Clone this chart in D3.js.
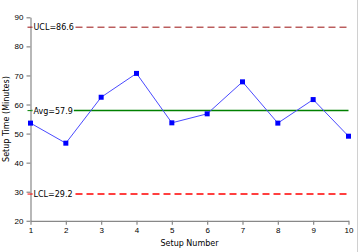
<!DOCTYPE html>
<html>
<head>
<meta charset="utf-8">
<script src="https://cdn.jsdelivr.net/npm/d3@7"></script>
<style>
  body { margin: 0; background: #fff; }
  svg { display: block; font-family: "DejaVu Sans", Verdana, sans-serif; }
</style>
</head>
<body>
<div id="chart"></div>
<script>
// setup times
const setupNumbers = [1, 2, 3, 4, 5, 6, 7, 8, 9, 10];
const setupTimes = [53.6, 46.7, 62.5, 70.7, 53.7, 56.8, 67.8, 53.6, 61.7, 49.1];
const yTicks = [20, 30, 40, 50, 60, 70, 80, 90];
const limits = [
  { name: 'UCL', value: 86.6, color: '#9a1010', width: 1 },
  { name: 'Avg', value: 57.9, color: '#008000', width: 1.5 },
  { name: 'LCL', value: 29.2, color: '#ff0000', width: 1.5 }
];

const width = 359;
const height = 252;

const svg = d3.select('#chart')
  .append('svg')
  .attr('width', width)
  .attr('height', height);

const x = d3.scaleLinear().domain([1, 10]).range([30.5, 348.5]);
const y = d3.scaleLinear().domain([20, 90]).range([220.8, 17.3]);

// frame edge on the right
svg.append('line')
  .attr('x1', 357.5).attr('x2', 357.5)
  .attr('y1', 0).attr('y2', height)
  .attr('stroke', '#d0d0d0');

const yAxis = svg.append('g')
  .attr('transform', `translate(${x(1)},0)`)
  .call(d3.axisLeft(y).tickValues(yTicks).tickSize(4).tickPadding(3).tickSizeOuter(0));

const xAxis = svg.append('g')
  .attr('transform', `translate(0,${y(20)})`)
  .call(d3.axisBottom(x).tickValues(setupNumbers).tickFormat(d3.format('d')).tickSize(4).tickPadding(3).tickSizeOuter(0));

[yAxis, xAxis].forEach(a => {
  a.selectAll('path, line').attr('stroke', '#888').attr('stroke-width', 1.2);
  a.selectAll('text').attr('fill', '#000').style('font-size', '8px');
});

// control limit lines
limits.forEach(l => {
  const yy = y(l.value);
  svg.append('line')
    .attr('x1', x(1) - 3).attr('x2', x(1) + 1)
    .attr('y1', yy).attr('y2', yy)
    .attr('stroke', l.color).attr('stroke-width', 1);
  svg.append('line')
    .attr('x1', x(1) + 1).attr('x2', l.name === 'Avg' ? x(10) : x(10) - 2)
    .attr('y1', yy).attr('y2', yy)
    .attr('stroke', l.color)
    .attr('stroke-width', l.width)
    .attr('stroke-dasharray', l.name === 'Avg' ? null : '7,4');

  const label = svg.append('text')
    .attr('x', x(1) + 3)
    .attr('y', yy + 3)
    .style('font-size', '8px')
    .attr('fill', '#000')
    .text(`${l.name}=${l.value}`);
  const bb = label.node().getBBox();
  svg.insert('rect', () => label.node())
    .attr('x', bb.x - 1).attr('y', bb.y)
    .attr('width', bb.width + 2).attr('height', bb.height)
    .attr('fill', '#fff');
});

// data series
const line = d3.line()
  .x((d, i) => x(setupNumbers[i]))
  .y(d => y(d));

svg.append('path')
  .datum(setupTimes)
  .attr('fill', 'none')
  .attr('stroke', '#4a4aff')
  .attr('stroke-width', 1)
  .attr('d', line);

svg.selectAll('.pt')
  .data(setupTimes)
  .enter().append('rect')
  .attr('class', 'pt')
  .attr('x', (d, i) => x(setupNumbers[i]) - 2.5)
  .attr('y', d => y(d) - 2.5)
  .attr('width', 5)
  .attr('height', 5)
  .attr('fill', '#0000ff');

// axis titles
svg.append('text')
  .attr('transform', `translate(9,${(y(20) + y(90)) / 2}) rotate(-90)`)
  .attr('text-anchor', 'middle')
  .style('font-size', '8px')
  .attr('fill', '#000')
  .text('Setup Time (Minutes)');

svg.append('text')
  .attr('x', (x(1) + x(10)) / 2)
  .attr('y', 246)
  .attr('text-anchor', 'middle')
  .style('font-size', '8px')
  .attr('fill', '#000')
  .text('Setup Number');
</script>
</body>
</html>
